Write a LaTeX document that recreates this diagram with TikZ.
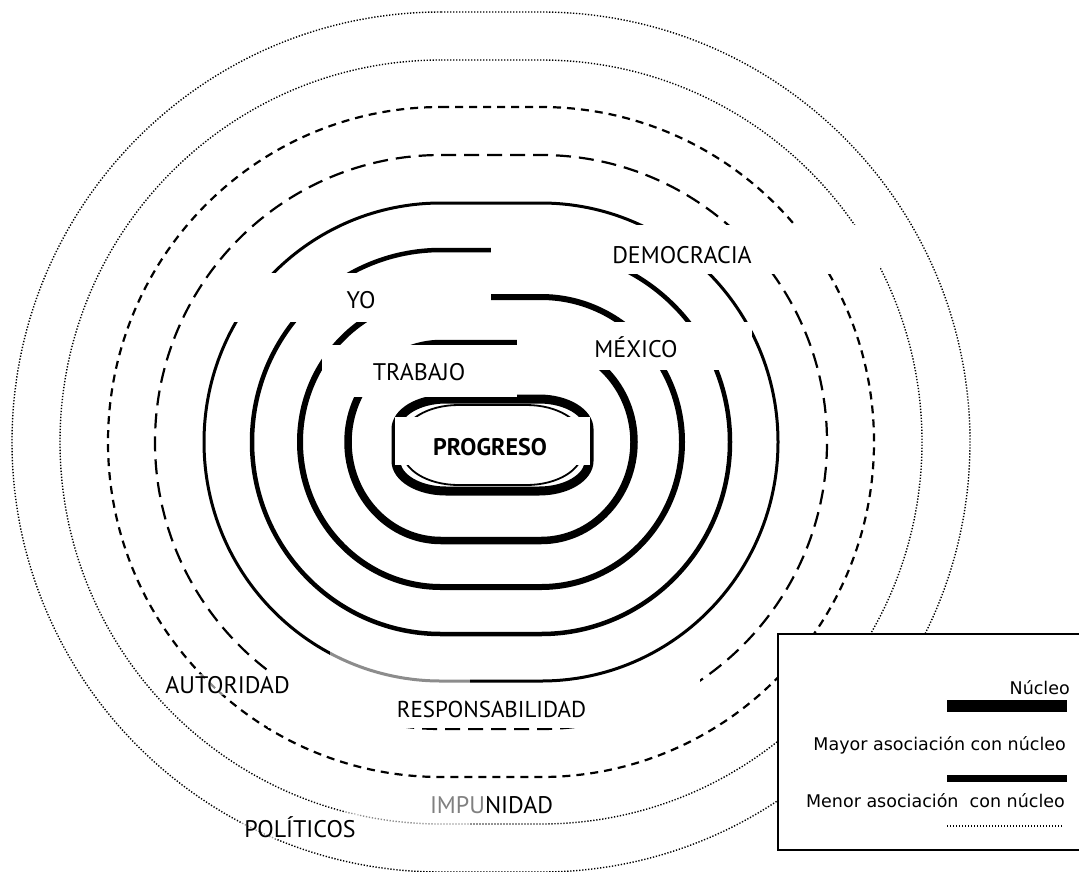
\documentclass[tikz,border=0pt]{standalone}
\usepackage{fontspec}
\setmainfont{PT Sans}
\newfontfamily\legendfont{DejaVu Sans}

% Rounded ring: centre (#2,#3), half sizes #4 x #5, corner radii #6 x #7
\newcommand{\ringshape}[7][]{%
  \draw[#1] ({#2-#4+#6},{#3+#5}) -- ({#2+#4-#6},{#3+#5})
    arc[start angle=90,end angle=0,x radius=#6,y radius=#7]
    -- ({#2+#4},{#3-#5+#7})
    arc[start angle=0,end angle=-90,x radius=#6,y radius=#7]
    -- ({#2-#4+#6},{#3-#5})
    arc[start angle=-90,end angle=-180,x radius=#6,y radius=#7]
    -- ({#2-#4},{#3+#5-#7})
    arc[start angle=180,end angle=90,x radius=#6,y radius=#7]
    -- cycle;}

\begin{document}
\begin{tikzpicture}[x=1pt,y=1pt,
  lbl/.style={font=\fontsize{24}{28}\selectfont, inner sep=0pt, anchor=base},
  leg/.style={font=\legendfont\fontsize{17.5}{21}\selectfont, inner sep=0pt, anchor=base east},
  core/.style={line width=9pt},
  strong1/.style={line width=7.5pt},
  strong2/.style={line width=6pt},
  strong3/.style={line width=4.5pt},
  strong4/.style={line width=3pt},
  weak1/.style={line width=2.2pt, dash pattern=on 15pt off 8pt},
  weak2/.style={line width=2.2pt, dash pattern=on 8pt off 6pt},
  faint/.style={line width=1.4pt, dash pattern=on 1.3pt off 1.7pt},
  mask/.style={fill=white, draw=none},
  haze/.style={fill=white, fill opacity=0.55, draw=none},
]
\useasboundingbox (0,0) rectangle (1079,-871);
\fill[white] (0,0) rectangle (1079,-871);

\def\cx{491}
\def\cy{-442}

% outer rings (weak association)
\ringshape[faint]{\cx}{\cy}{479}{430}{429}{430}
\ringshape[faint]{\cx}{\cy}{431}{382}{381}{382}
\ringshape[weak2]{\cx}{\cy}{383}{335}{333}{335}
\ringshape[weak1]{\cx}{\cy}{336}{287}{286}{287}

% background of the lower label
\fill[mask] (268,-673) rectangle (700,-728.3);

% inner rings (strong association)
\ringshape[strong4]{\cx}{\cy}{287}{239}{237}{239}
\ringshape[strong3]{\cx}{\cy}{239}{192}{189}{192}
\ringshape[strong2]{\cx}{\cy}{191}{145}{141}{145}
\ringshape[strong1]{\cx}{\cy}{143}{98.5}{93}{98.5}
% core
\ringshape[core]{492.5}{-445}{96.5}{46}{50}{30}
\ringshape[line width=1.8pt]{492.5}{-445}{90}{40}{56}{34}

% label backgrounds
\fill[mask] (491,-225) rectangle (880,-274);
\fill[mask] (225,-273) rectangle (491,-322);
\fill[mask] (517,-322) rectangle (752,-370);
\fill[mask] (322,-345) rectangle (517,-397);
\fill[mask] (395,-417) rectangle (590,-465);

% faded stretches
\fill[haze] (330,-645) rectangle (470,-690);
\fill[haze] (345,-800) rectangle (470,-832);

% legend frame
\filldraw[fill=white, draw=black, line width=1.3pt]
  (1090,-634) -- (778,-634) -- (778,-850) -- (1090,-850);
\fill (947,-700) rectangle (1067,-712);
\fill (947,-775) rectangle (1067,-782);
\draw[faint] (947,-826) -- (1063,-826);

% labels
\node[lbl] (dem) at (682,-263) {DEMOCRACIA};
\node[lbl] (yo) at (361,-308) {YO};
\node[lbl] (mex) at (636,-357) {MÉXICO};
\node[lbl] (trab) at (419,-380) {TRABAJO};
\node[lbl, font=\bfseries\fontsize{24}{28}\selectfont] (prog) at (490,-455) {PROGRESO};
\node[lbl, fill=white, fill opacity=0.55, text opacity=1, inner sep=2pt] (aut) at (227.5,-693) {AUTORIDAD};
\node[lbl, font=\fontsize{23}{27}\selectfont] (resp) at (491.5,-717) {RESPONSABILIDAD};
\node[lbl] (imp) at (491.5,-813) {\textcolor{black!50}{IMPU}NIDAD};
\node[lbl, fill=white, fill opacity=0.6, text opacity=1, inner sep=2pt] (pol) at (300,-837) {POLÍTICOS};

\node[leg] (lnuc) at (1070,-694) {Núcleo};
\node[leg] (lmay) at (1066,-750) {Mayor asociación con núcleo};
\node[leg] (lmen) at (1065,-807) {Menor asociación\ \ con núcleo};
\end{tikzpicture}
\end{document}
